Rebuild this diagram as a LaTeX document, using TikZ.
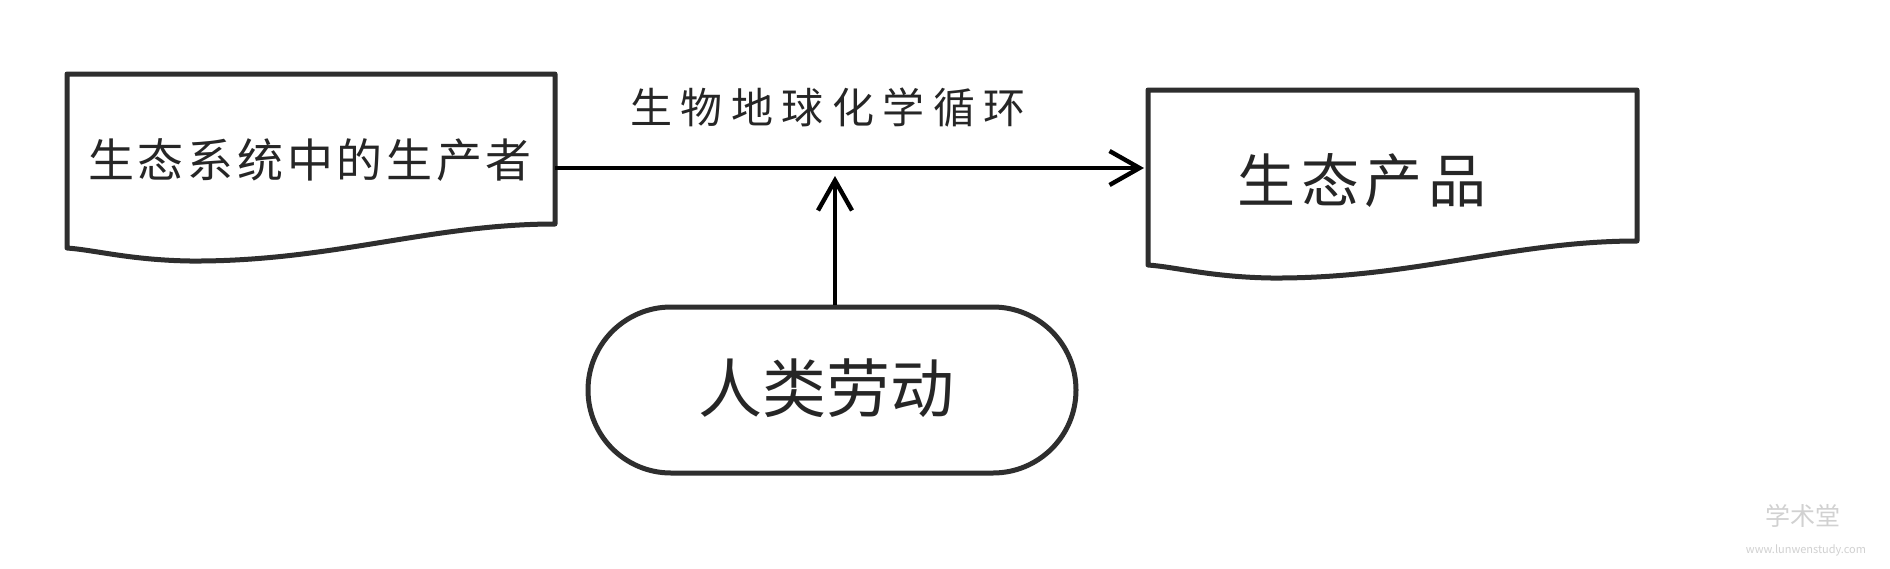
\documentclass[tikz,border=0pt]{standalone}
\usepackage{fontspec}
\setmainfont{Noto Sans CJK SC}
\newfontfamily\cjk{Noto Sans CJK SC}
\usetikzlibrary{arrows.meta}
\definecolor{edge}{HTML}{2E2E2E}
\begin{document}
\begin{tikzpicture}[x=0.5pt,y=-0.5pt,
  docbox/.style={draw=edge,line width=2.5pt,line join=round,fill=white},
  conn/.style={draw=black,line width=2.2pt,-{Straight Barb[length=15pt,width=17pt,line width=2.2pt]}},
  txt/.style={inner sep=0pt,text=black!85},
  wm/.style={inner sep=0pt,text=black!18}]
\useasboundingbox[fill=white] (0,0) rectangle (1890,568);
% left document shape
\draw[docbox] (67,74) -- (555,74) -- (555,224)
  .. controls (430,224) and (330,262) .. (190,261)
  .. controls (130,260) and (95,250) .. (67,248) -- cycle;
% right document shape
\draw[docbox] (1148,90) -- (1637,90) -- (1637,241)
  .. controls (1512,241) and (1412,279) .. (1271,278)
  .. controls (1211,277) and (1176,267) .. (1148,265) -- cycle;
\node[txt,font={\fontsize{23pt}{23pt}\selectfont\addfontfeatures{LetterSpace=8}}] (prod) at (310,160) {生态系统中的生产者};
\node[txt,font={\fontsize{29pt}{29pt}\selectfont\addfontfeatures{LetterSpace=10}}] (eco) at (1362,181) {生态产品};
\node[draw=edge,line width=2.5pt,rounded corners=41.5pt,minimum width=244pt,minimum height=83pt,inner sep=0pt] (labor) at (832,390) {};
\node[txt,font={\fontsize{32pt}{32pt}\selectfont}] (laborT) at (826,388) {人类劳动};
\node[txt,font={\fontsize{21pt}{21pt}\selectfont\addfontfeatures{LetterSpace=20}}] (cyc) at (828,108) {生物地球化学循环};
\coordinate (pE) at (555,168);
\coordinate (eW) at (1144,168);
\coordinate (mid) at (835,176);
\draw[conn] (pE) -- (eW);
\draw[conn] (labor.north -| mid) -- (mid);
% watermark
\node[wm,font={\fontsize{12.5pt}{12.5pt}\selectfont}] (wm1) at (1803,516) {学术堂};
\node[wm,font={\fontsize{5.5pt}{5.5pt}\selectfont}] (wm2) at (1806,550) {www.lunwenstudy.com};
\end{tikzpicture}
\end{document}
